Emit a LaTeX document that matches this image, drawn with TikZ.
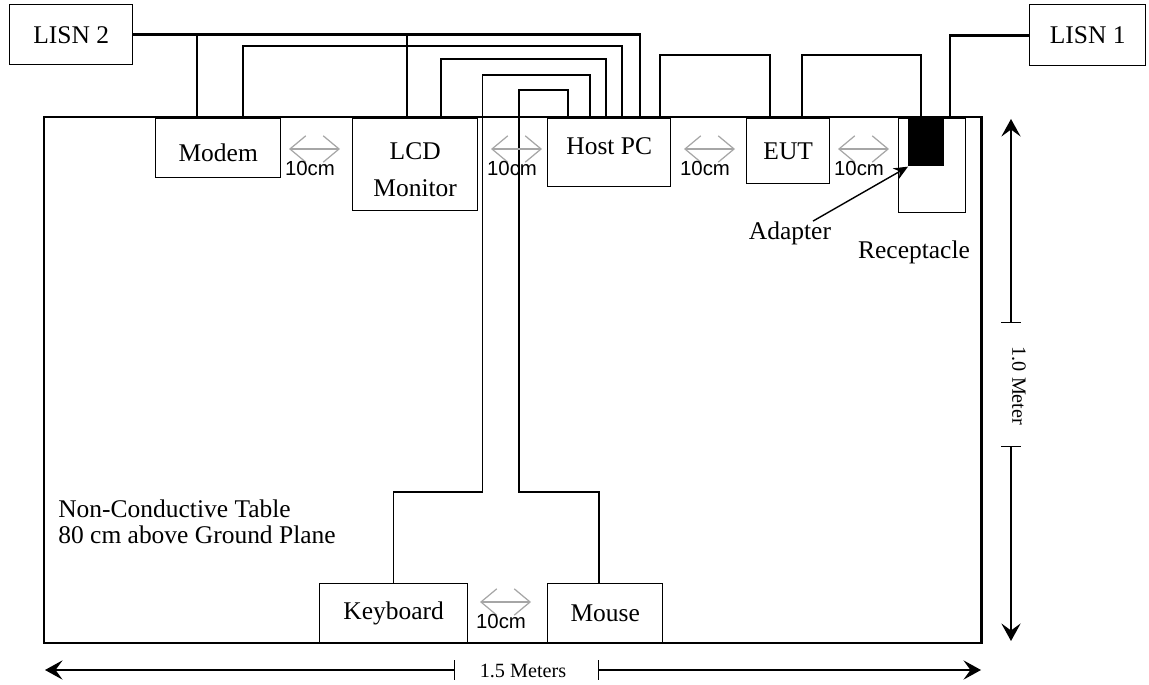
\documentclass[tikz,border=0pt]{standalone}
\usepackage{fontspec}
\setmainfont{Liberation Serif}
\setsansfont{Liberation Sans}
\usetikzlibrary{arrows.meta,positioning,calc}

\begin{document}
\begin{tikzpicture}[
        % 以像素为单位，y 轴向下
        x=0.02cm, y=-0.02cm,
        dev/.style={draw, line width=0.8pt, fill=white, inner sep=0pt, align=center,
            font=\fontsize{14.5pt}{19pt}\selectfont},
        txt/.style={inner sep=0pt, align=left, font=\fontsize{14.5pt}{15pt}\selectfont},
        lcdtxt/.style={inner sep=0pt, align=center, yshift=-0.1cm,
            font=\fontsize{14.5pt}{21pt}\selectfont},
        gaptxt/.style={inner sep=0pt, font=\sffamily\fontsize{11.6pt}{12pt}\selectfont},
        dimtxt/.style={inner sep=0pt, font=\fontsize{11.5pt}{12pt}\selectfont},
        pwr/.style={line width=1.5pt},
        cable/.style={line width=0.85pt},
        gaparrow/.style={{Straight Barb[length=9pt,width=15pt]}-{Straight Barb[length=9pt,width=15pt]},
            line width=0.7pt, gray!70},
        dimline/.style={{Bar[width=11pt]}-{Stealth[length=10pt,width=11pt,inset=4pt]}, line width=0.8pt},
    ]

    \useasboundingbox (0,0) rectangle (1149,685);

    % ---- 设备 ----
    \node[dev, anchor=north west, minimum width=2.46cm, minimum height=1.2cm] (lisn2) at (9,4) {LISN 2};
    \node[dev, anchor=north west, minimum width=2.32cm, minimum height=1.22cm] (lisn1) at (1029,4) {LISN 1};
    \node[dev, anchor=north west, minimum width=2.5cm, minimum height=1.18cm, text height=0.52cm] (modem) at (155,118) {Modem};
    \node[dev, anchor=north west, minimum width=2.5cm, minimum height=1.84cm,
        label={[lcdtxt]center:LCD\\Monitor}] (lcd) at (352,118) {};
    \node[dev, anchor=north west, minimum width=2.46cm, minimum height=1.36cm, text depth=0.28cm] (host) at (547,118) {Host PC};
    \node[dev, anchor=north west, minimum width=1.66cm, minimum height=1.3cm] (eut) at (746,118) {EUT};
    \node[dev, anchor=north west, minimum width=1.34cm, minimum height=1.88cm] (recp) at (898,118) {};
    \node[dev, anchor=north west, minimum width=2.96cm, minimum height=1.2cm] (kbd) at (319,583) {Keyboard};
    \node[dev, anchor=north west, minimum width=2.3cm, minimum height=1.2cm] (mouse) at (547,583) {Mouse};

    % ---- 桌面 ----
    \draw[line width=1.7pt] (44,117) rectangle (981,643);

    % 适配器
    \node[fill=black, inner sep=0pt, anchor=north west, minimum width=0.72cm, minimum height=0.98cm] (adapter) at (908,117) {};

    % 接线点
    \foreach \n/\dx in {hA/21, hB/43, hC/59, hD/75, hE/93, hF/113}
        \coordinate (\n) at ($(host.north west)+(\dx,0)$);
    \coordinate (m1) at ($(modem.north west)+(42,0)$);
    \coordinate (m2) at ($(modem.north west)+(88,0)$);
    \coordinate (l1) at ($(lcd.north west)+(55,0)$);
    \coordinate (l2) at ($(lcd.north west)+(89,0)$);
    \coordinate (e1) at ($(eut.north west)+(24,0)$);
    \coordinate (e2) at ($(eut.north west)+(56,0)$);
    \coordinate (a1) at ($(adapter.north west)+(13,0)$);
    \coordinate (a2) at ($(recp.north west)+(52,0)$);
    \coordinate (ms) at ($(mouse.north west)+(52,0)$);

    % ---- 电源线 ----
    \draw[pwr] (lisn2.east) -| (hE);
    \draw[pwr] (m1 |- lisn2.east) -- (m1);
    \draw[pwr] (l1 |- lisn2.east) -- (l1);
    \draw[pwr] (a2) |- (lisn1.west);

    % ---- 信号线 ----
    \draw[cable] (m2) -- ++(0,-72) -| (hD);
    \draw[cable] (l2) -- ++(0,-59) -| (hC);
    \draw[cable] (kbd.north) -- ++(0,-91) -- ++(89,0) -- ++(0,-417) -| (hB);
    \draw[cable] (ms) -- ++(0,-91) -- ++(-80,0) -- ++(0,-402) -| (hA);
    \draw[cable] (hF) -- ++(0,-63) -| (e1);
    \draw[cable] (e2) -- ++(0,-63) -| (a1);

    % ---- 10cm 间距 ----
    \foreach \x/\y [count=\i] in {289/149, 491/149, 684/149, 838/149, 480/602} {
        \coordinate (g\i a) at (\x,\y);
        \coordinate (g\i b) at (\x+51,\y);
        \draw[gaparrow] (g\i a) -- (g\i b);
        \node[gaptxt] (g\i t) at (\x+21,\y+19) {10cm};
    }

    % 标签
    \node[txt] (adptxt) at (790,233) {Adapter};
    \node[txt] (recptxt) at (914,252) {Receptacle};
    \draw[-{Stealth[length=8pt,width=7pt]}, line width=0.8pt] ([xshift=0.46cm]adptxt.north) -- (adapter.south west);
    \node[txt, anchor=west] (tbltxt) at (58,522) {Non-Conductive Table\\80 cm above Ground Plane};

    % ---- 尺寸 ----
    \coordinate (wL) at (45,670);
    \coordinate (wl) at (455,670);
    \coordinate (wr) at (598,670);
    \coordinate (wR) at (981,670);
    \node[dimtxt] (wtxt) at (523,671) {1.5 Meters};
    \draw[dimline] (wl) -- (wL);
    \draw[dimline] (wr) -- (wR);

    \coordinate (dT) at (1011,119);
    \coordinate (dt) at (1011,323);
    \coordinate (db) at (1011,446);
    \coordinate (dB) at (1011,641);
    \node[dimtxt, rotate=-90] (dtxt) at (1019,386) {1.0 Meter};
    \draw[dimline] (dt) -- (dT);
    \draw[dimline] (db) -- (dB);

\end{tikzpicture}
\end{document}
